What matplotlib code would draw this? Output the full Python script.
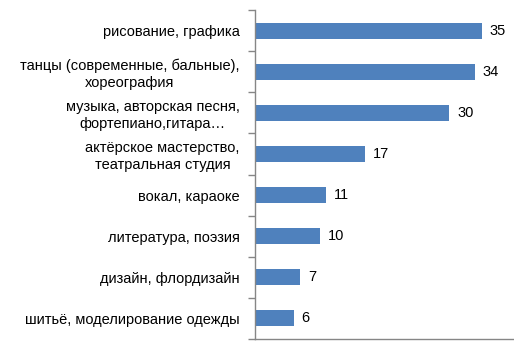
import matplotlib.pyplot as plt
from matplotlib.ticker import FixedLocator, NullFormatter

categories = [
    "рисование, графика",
    "танцы (современные, бальные),\nхореография",
    "музыка, авторская песня,\nфортепиано,гитара…",
    "актёрское мастерство,\nтеатральная студия",
    "вокал, караоке",
    "литература, поэзия",
    "дизайн, флордизайн",
    "шитьё, моделирование одежды",
]
values = [35, 34, 30, 17, 11, 10, 7, 6]

plt.rcParams['font.family'] = ['Liberation Sans', 'DejaVu Sans']

fig = plt.figure(figsize=(5.14, 3.41), dpi=100)
ax = fig.add_axes([255 / 514, 2 / 341, 259 / 514, 329 / 341])

pos = list(range(len(values)))
ax.barh(pos, values, height=0.39, color='#4f81bd')
ax.set_ylim(len(values) - 0.5, -0.5)
ax.set_xlim(0, 40)

for p, v in zip(pos, values):
    ax.text(v + 1.2, p, str(v), va='center', ha='left', fontsize=10.5, color='black')

ax.yaxis.set_major_locator(FixedLocator(pos))
ax.set_yticklabels(categories, fontsize=10.5, multialignment='center')
ax.tick_params(axis='y', which='major', length=0, pad=11)
ax.yaxis.set_minor_locator(FixedLocator([p - 0.5 for p in pos] + [len(values) - 0.5]))
ax.yaxis.set_minor_formatter(NullFormatter())
ax.tick_params(axis='y', which='minor', length=5, color='#868686', width=1)
ax.set_xticks([])

for s in ['top', 'right']:
    ax.spines[s].set_visible(False)
for s in ['left', 'bottom']:
    ax.spines[s].set_color('#868686')
    ax.spines[s].set_linewidth(1)

fig.savefig('out.png', dpi=100)
